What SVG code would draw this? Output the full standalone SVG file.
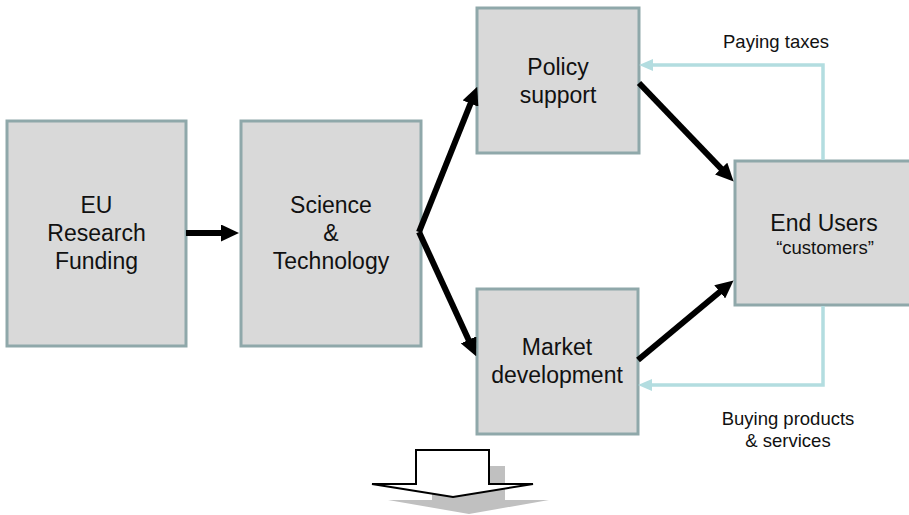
<svg xmlns="http://www.w3.org/2000/svg" width="909" height="515" viewBox="0 0 909 515">
<style>
.box{fill:#d9d9d9;stroke:#8fa8aa;stroke-width:3}
.lbl{font-family:"Liberation Sans",Arial,sans-serif;font-size:23px;fill:#111;text-anchor:middle}
.side{font-family:"Liberation Sans",Arial,sans-serif;font-size:18.5px;fill:#111;text-anchor:middle}
.blk{stroke:#000;stroke-width:6;fill:none}
.teal{stroke:#b3dde0;stroke-width:3.5;fill:none}
</style>
<defs>
<marker id="ah" markerUnits="userSpaceOnUse" markerWidth="18" markerHeight="17" refX="10" refY="8.5" orient="auto">
<path d="M0,0 L18,8.5 L0,17 z" fill="#000"/>
</marker>
<marker id="th" markerUnits="userSpaceOnUse" markerWidth="14" markerHeight="12" refX="7" refY="6" orient="auto">
<path d="M0,0 L14,6 L0,12 z" fill="#b3dde0"/>
</marker>
</defs>
<g id="eu">
<rect class="box" x="7" y="121" width="179" height="225"/>
<text class="lbl" x="96.5" y="213">EU</text>
<text class="lbl" x="96.5" y="241">Research</text>
<text class="lbl" x="96.5" y="269">Funding</text>
</g>
<g id="science">
<rect class="box" x="241" y="121" width="180" height="225"/>
<text class="lbl" x="331" y="213">Science</text>
<text class="lbl" x="331" y="241">&amp;</text>
<text class="lbl" x="331" y="269">Technology</text>
</g>
<g id="policy">
<rect class="box" x="477" y="8" width="162" height="145"/>
<text class="lbl" x="558" y="75">Policy</text>
<text class="lbl" x="558" y="103">support</text>
</g>
<g id="market">
<rect class="box" x="477" y="289" width="161" height="145"/>
<text class="lbl" x="557" y="355">Market</text>
<text class="lbl" x="557" y="383">development</text>
</g>
<g id="endusers">
<rect class="box" x="735" y="161" width="178" height="144"/>
<text class="lbl" x="824" y="231">End Users</text>
<text class="side" x="825" y="254">“customers”</text>
</g>
<g id="connectors">
<line class="blk" x1="186" y1="233" x2="231" y2="233" marker-end="url(#ah)"/>
<line class="blk" x1="419" y1="232" x2="474.2" y2="94.3" marker-end="url(#ah)"/>
<line class="blk" x1="419" y1="232" x2="472.8" y2="348.9" marker-end="url(#ah)"/>
<line class="blk" x1="639" y1="83" x2="728.1" y2="175.8" marker-end="url(#ah)"/>
<line class="blk" x1="638" y1="360" x2="727.4" y2="285.5" marker-end="url(#ah)"/>
<polyline class="teal" points="823,160 823,65 646,65" marker-end="url(#th)"/>
<polyline class="teal" points="823,306 823,385 645,385" marker-end="url(#th)"/>
</g>
<g id="labels">
<text class="side" x="776" y="48">Paying taxes</text>
<text class="side" x="788" y="425">Buying products</text>
<text class="side" x="788" y="447">&amp; services</text>
</g>
<g id="blockarrow">
<path d="M432,466 L505,466 L505,500 L549,500 L469,514 L388,500 L432,500 z" fill="#c0c0c0"/>
<path d="M416,450 L489,450 L489,484 L533,484 L453,497 L372,484 L416,484 z" fill="#fff" stroke="#000" stroke-width="2"/>
</g>
</svg>
